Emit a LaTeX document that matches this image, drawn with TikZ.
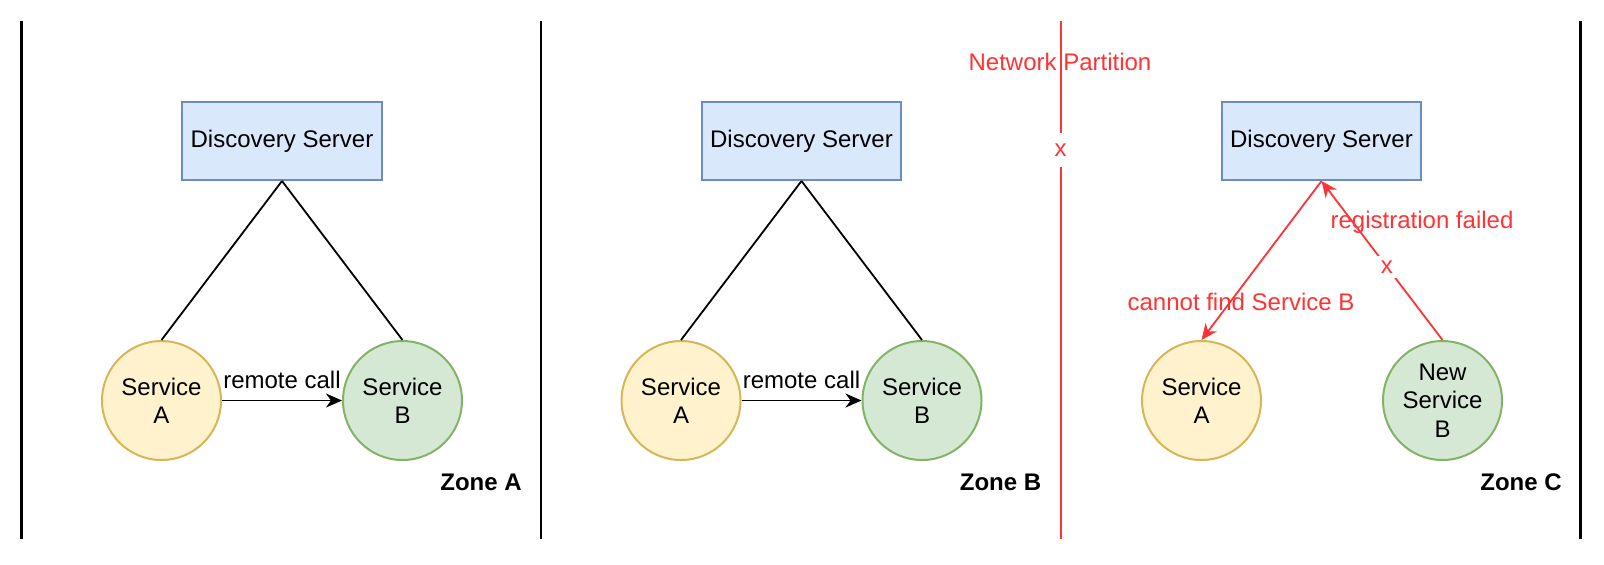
\documentclass[tikz,border=0pt]{standalone}
\usepackage{fontspec}
\setmainfont{Liberation Sans}
\usetikzlibrary{arrows.meta}
\definecolor{srvfill}{HTML}{DAE8FC}
\definecolor{srvline}{HTML}{6C8EBF}
\definecolor{afill}{HTML}{FFF2CC}
\definecolor{aline}{HTML}{D6B656}
\definecolor{bfill}{HTML}{D5E8D4}
\definecolor{bline}{HTML}{82B366}
\definecolor{fallo}{HTML}{FF3333}

\begin{document}
\begin{tikzpicture}[
  x=0.5pt, y=-0.5pt,
  font=\fontsize{12}{14.2}\selectfont,
  server/.style={rectangle, draw=srvline, fill=srvfill, line width=1pt, minimum width=99.75pt, minimum height=39pt, inner sep=0pt},
  svca/.style={circle, draw=aline, fill=afill, line width=1pt, minimum size=59.5pt, inner sep=0pt, align=center},
  svcb/.style={circle, draw=bline, fill=bfill, line width=1pt, minimum size=59.5pt, inner sep=0pt, align=center},
  edge/.style={line width=0.9pt, draw=black},
  call/.style={edge, -{Stealth[length=8pt, width=7pt, inset=2.5pt]}},
  fail/.style={line width=0.9pt, draw=fallo, -{Stealth[length=8pt, width=7pt, inset=2.5pt]}},
  zone/.style={line width=1.4pt, draw=black},
  partline/.style={line width=1pt, draw=fallo},
  zlabel/.style={font=\fontsize{12}{14.2}\selectfont\bfseries},
  redtext/.style={text=fallo},
  cut/.style={text=fallo, fill=white}
]
  \useasboundingbox (0,0) rectangle (1604,564);

  % Líneas entre zonas
  \foreach \lx in {21.5,541,1580.5}
    \draw[zone] (\lx,21) -- (\lx,539);

  % Zonas A y B (iguales, desplazadas 519.5)
  \foreach \z/\zona in {0/A,1/B} {
    \pgfmathsetmacro{\dx}{\z*519.5}
    \node[server] (srv\zona) at (\dx+282,141) {Discovery Server};
    \node[svca] (sa\zona) at (\dx+161.5,400.5) {Service\\A};
    \node[svcb] (sb\zona) at (\dx+402.5,400.5) {Service\\B};
    \draw[edge] (srv\zona.south) -- (sa\zona.north);
    \draw[edge] (srv\zona.south) -- (sb\zona.north);
    \draw[call] (sa\zona) -- node[above, inner sep=0pt, yshift=5.5pt] {remote call} (sb\zona);
    \node[zlabel] (zona\zona) at (\dx+481,482) {Zone \zona};
  }

  % Partición de red
  \node[redtext] (particion) at (1060,62) {Network Partition};
  \node[cut, inner sep=5pt] (cruce) at (1060.5,150) {x};
  \coordinate (ptop) at (1060.5,21);
  \coordinate (pbot) at (1060.5,539);
  \draw[partline] (ptop) -- (cruce) -- (pbot);

  % Zona C
  \node[server] (srvC) at (1321.5,141) {Discovery Server};
  \node[svca] (saC) at (1201.5,400.5) {Service\\A};
  \node[svcb] (sbC) at (1442.5,400.5) {New\\Service\\B};
  \node[redtext] (nohalla) at (1241,302) {cannot find Service B};
  \node[redtext] (noreg) at (1422,222) {registration failed};
  \draw[fail] (srvC.south) -- (saC.north);
  \draw[fail] (sbC.north) -- node[cut, pos=0.46, inner sep=2.5pt] (xreg) {x} (srvC.south);
  \node[zlabel] (zonaC) at (1521,482) {Zone C};
\end{tikzpicture}
\end{document}
